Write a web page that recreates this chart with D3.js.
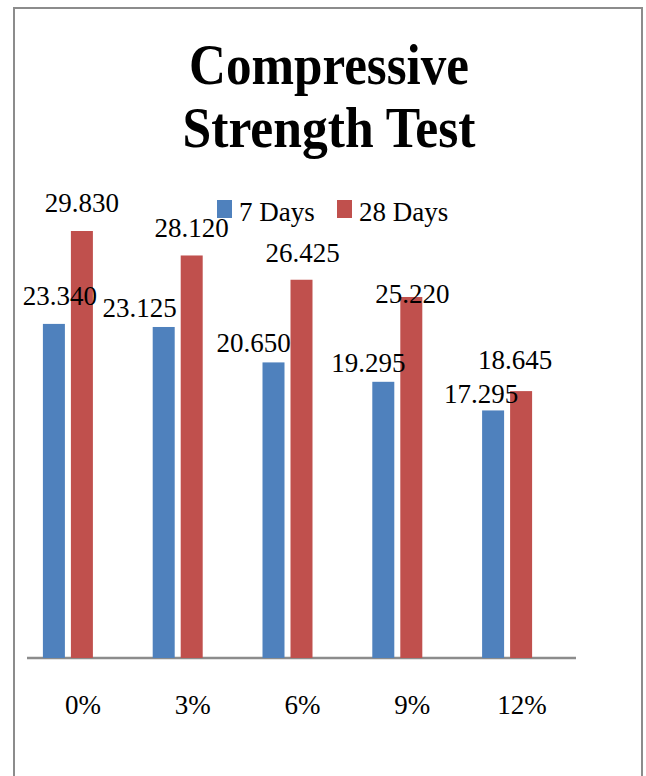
<!DOCTYPE html>
<html>
<head>
<meta charset="utf-8">
<script src="https://cdn.jsdelivr.net/npm/d3@7"></script>
<style>
  body { margin: 0; background: #fff; }
  svg text { font-family: "Liberation Serif", "DejaVu Serif", serif; fill: #000; }
</style>
</head>
<body>
<svg width="646" height="776"></svg>
<script>
  const categories = ['0%', '3%', '6%', '9%', '12%'];
  const days7 = [23.340, 23.125, 20.650, 19.295, 17.295];
  const days28 = [29.830, 28.120, 26.425, 25.220, 18.645];
  const seriesNames = ['7 Days', '28 Days'];
  const titleLines = ['Compressive', 'Strength Test'];

  const colors = ['#4f81bd', '#c0504d'];

  // labels in the original sit a little off the bar tops, nudge them by hand
  const nudge7 = { dx: [6, -24, -20, -15, -12], dy: [-19, -10, -10, -10, -7] };
  const nudge28 = { dx: [0, 0, 1, 1, -6], dy: [-19, -18, -18, 6, -22] };

  const svg = d3.select('svg');

  // frame
  svg.append('rect')
    .attr('x', 14).attr('y', 8)
    .attr('width', 628).attr('height', 820)
    .attr('fill', '#fff')
    .attr('stroke', '#8c8c8c')
    .attr('stroke-width', 2);

  const x = d3.scaleBand()
    .domain(categories)
    .range([27, 576]);

  const y = d3.scaleLinear()
    .domain([0, 35])
    .range([658, 157]);

  const barW = 22;
  const gap = 6;
  const cx = d => x(d) + x.bandwidth() / 2;

  const series = [
    { name: seriesNames[0], values: days7, nudge: nudge7, offset: -barW - gap - barW / 2 },
    { name: seriesNames[1], values: days28, nudge: nudge28, offset: -barW / 2 }
  ];

  const fmt = d3.format('.3f');

  const barsG = svg.append('g');
  const labelsG = svg.append('g');

  series.forEach((s, si) => {
    barsG.append('g').selectAll('rect').data(s.values)
      .enter().append('rect')
      .attr('x', (d, i) => cx(categories[i]) + s.offset)
      .attr('y', d => y(d))
      .attr('width', barW)
      .attr('height', d => y(0) - y(d))
      .attr('fill', colors[si]);

    labelsG.append('g').selectAll('text').data(s.values)
      .enter().append('text')
      .attr('x', (d, i) => cx(categories[i]) + s.offset + barW / 2 + s.nudge.dx[i])
      .attr('y', (d, i) => y(d) + s.nudge.dy[i])
      .attr('text-anchor', 'middle')
      .attr('font-size', 27)
      .text(fmt);
  });

  // baseline
  svg.insert('line', 'g')
    .attr('x1', 27).attr('x2', 576)
    .attr('y1', y(0)).attr('y2', y(0))
    .attr('stroke', '#8c8c8c')
    .attr('stroke-width', 2.5);

  // category labels
  svg.append('g').selectAll('text').data(categories)
    .enter().append('text')
    .attr('x', d => cx(d) + 1)
    .attr('y', 714)
    .attr('text-anchor', 'middle')
    .attr('font-size', 27)
    .text(d => d);

  // title
  const titleWidths = [280, 293];
  svg.append('g').selectAll('text').data(titleLines)
    .enter().append('text')
    .attr('x', 329)
    .attr('y', (d, i) => 84 + i * 63)
    .attr('text-anchor', 'middle')
    .attr('font-size', 56)
    .attr('font-weight', 'bold')
    .attr('textLength', (d, i) => titleWidths[i])
    .attr('lengthAdjust', 'spacingAndGlyphs')
    .text(d => d);

  // legend
  const legendX = [217, 337];
  const legend = svg.append('g').selectAll('g').data(seriesNames)
    .enter().append('g')
    .attr('transform', (d, i) => `translate(${legendX[i]},200)`);
  legend.append('rect')
    .attr('width', 15).attr('height', 18)
    .attr('fill', (d, i) => colors[i]);
  legend.append('text')
    .attr('x', 22)
    .attr('y', 21)
    .attr('font-size', 27)
    .text(d => d);
</script>
</body>
</html>
